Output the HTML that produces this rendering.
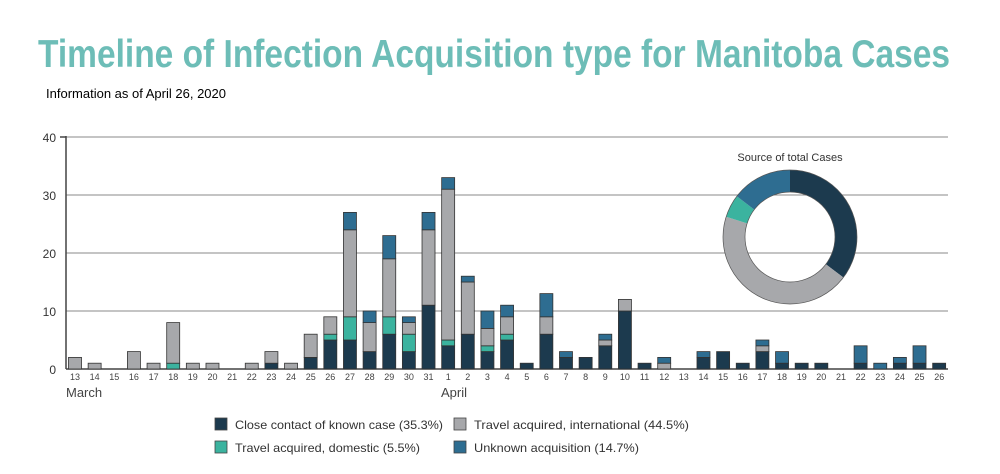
<!DOCTYPE html>
<html><head><meta charset="utf-8"><style>
body{margin:0;background:#fff;width:1000px;height:469px;overflow:hidden;font-family:"Liberation Sans",sans-serif}
</style></head><body>
<svg width="1000" height="469" viewBox="0 0 1000 469" xmlns="http://www.w3.org/2000/svg" font-family="Liberation Sans, sans-serif">
<text x="38" y="67" font-size="39" font-weight="bold" fill="#6dbdb7" textLength="912" lengthAdjust="spacingAndGlyphs">Timeline of Infection Acquisition type for Manitoba Cases</text>
<text x="46" y="98" font-size="13" fill="#000" textLength="180" lengthAdjust="spacingAndGlyphs">Information as of April 26, 2020</text>
<g stroke="#8a8a8a" stroke-width="1">
<line x1="66" y1="137" x2="948" y2="137"/><line x1="66" y1="195" x2="948" y2="195"/><line x1="66" y1="253" x2="948" y2="253"/><line x1="66" y1="311" x2="948" y2="311"/>
</g>
<line x1="66" y1="369" x2="948" y2="369" stroke="#444" stroke-width="1.5"/>
<line x1="66" y1="136" x2="66" y2="369" stroke="#444" stroke-width="1.5"/>
<line x1="60" y1="137" x2="66" y2="137" stroke="#444" stroke-width="1.5"/>
<g font-size="12" fill="#333" text-anchor="end">
<text x="56" y="142">40</text><text x="56" y="200">30</text><text x="56" y="258">20</text><text x="56" y="316">10</text><text x="56" y="374">0</text>
</g>
<g id="bars" stroke="#333" stroke-width="0.8"></g>
<g font-size="9" fill="#444" text-anchor="middle">
<text x="75" y="380">13</text><text x="94.6" y="380">14</text><text x="114.3" y="380">15</text><text x="133.9" y="380">16</text><text x="153.6" y="380">17</text><text x="173.2" y="380">18</text><text x="192.8" y="380">19</text><text x="212.5" y="380">20</text><text x="232.1" y="380">21</text><text x="251.8" y="380">22</text><text x="271.4" y="380">23</text><text x="291" y="380">24</text><text x="310.7" y="380">25</text><text x="330.3" y="380">26</text><text x="350" y="380">27</text><text x="369.6" y="380">28</text><text x="389.2" y="380">29</text><text x="408.9" y="380">30</text><text x="428.5" y="380">31</text><text x="448.2" y="380">1</text><text x="467.8" y="380">2</text><text x="487.4" y="380">3</text><text x="507.1" y="380">4</text><text x="526.7" y="380">5</text><text x="546.4" y="380">6</text><text x="566" y="380">7</text><text x="585.6" y="380">8</text><text x="605.3" y="380">9</text><text x="624.9" y="380">10</text><text x="644.6" y="380">11</text><text x="664.2" y="380">12</text><text x="683.8" y="380">13</text><text x="703.5" y="380">14</text><text x="723.1" y="380">15</text><text x="742.8" y="380">16</text><text x="762.4" y="380">17</text><text x="782" y="380">18</text><text x="801.7" y="380">19</text><text x="821.3" y="380">20</text><text x="841" y="380">21</text><text x="860.6" y="380">22</text><text x="880.2" y="380">23</text><text x="899.9" y="380">24</text><text x="919.5" y="380">25</text><text x="939.2" y="380">26</text>
</g>
<text x="66" y="397" font-size="13" fill="#444">March</text>
<text x="441" y="397" font-size="13" fill="#444">April</text>
<text x="790" y="161" font-size="11" fill="#333" text-anchor="middle">Source of total Cases</text>
<g transform="rotate(-90 790 237)" fill="none" stroke-width="22">
<circle cx="790" cy="237" r="56" stroke="#1c3a4e" stroke-dasharray="124.2 400" stroke-dashoffset="0"/>
<circle cx="790" cy="237" r="56" stroke="#a7a8ab" stroke-dasharray="156.6 400" stroke-dashoffset="-124.2"/>
<circle cx="790" cy="237" r="56" stroke="#3bb39f" stroke-dasharray="19.4 400" stroke-dashoffset="-280.8"/>
<circle cx="790" cy="237" r="56" stroke="#2e6d91" stroke-dasharray="51.7 400" stroke-dashoffset="-300.2"/>
</g>
<circle cx="790" cy="237" r="67" fill="none" stroke="#555" stroke-width="0.7"/>
<circle cx="790" cy="237" r="45" fill="none" stroke="#555" stroke-width="0.7"/>
<g stroke="#444" stroke-width="0.8">
<rect x="215" y="418" width="12" height="12" fill="#1c3a4e"/>
<rect x="454" y="418" width="12" height="12" fill="#a7a8ab"/>
<rect x="215" y="441" width="12" height="12" fill="#3bb39f"/>
<rect x="454" y="441" width="12" height="12" fill="#2e6d91"/>
</g>
<g font-size="12" fill="#333">
<text x="235" y="429" textLength="208" lengthAdjust="spacingAndGlyphs">Close contact of known case (35.3%)</text>
<text x="474" y="429" textLength="215" lengthAdjust="spacingAndGlyphs">Travel acquired, international (44.5%)</text>
<text x="235" y="452" textLength="185" lengthAdjust="spacingAndGlyphs">Travel acquired, domestic (5.5%)</text>
<text x="474" y="452" textLength="165" lengthAdjust="spacingAndGlyphs">Unknown acquisition (14.7%)</text>
</g>
</svg>
<script>
var d=[[0,0,2,0],[0,0,1,0],[0,0,0,0],[0,0,3,0],[0,0,1,0],[0,1,7,0],[0,0,1,0],[0,0,1,0],[0,0,0,0],[0,0,1,0],[1,0,2,0],[0,0,1,0],[2,0,4,0],[5,1,3,0],[5,4,15,3],[3,0,5,2],[6,3,10,4],[3,3,2,1],[11,0,13,3],[4,1,26,2],[6,0,9,1],[3,1,3,3],[5,1,3,2],[1,0,0,0],[6,0,3,4],[2,0,0,1],[2,0,0,0],[4,0,1,1],[10,0,2,0],[1,0,0,0],[0,0,1,1],[0,0,0,0],[2,0,0,1],[3,0,0,0],[1,0,0,0],[3,0,1,1],[1,0,0,2],[1,0,0,0],[1,0,0,0],[0,0,0,0],[1,0,0,3],[0,0,0,1],[1,0,0,1],[1,0,0,3],[1,0,0,0]];
var c=["#1c3a4e","#3bb39f","#a7a8ab","#2e6d91"],s="",u=5.8;
d.forEach(function(v,i){var x=75+19.64*i-6.5,y=369;v.forEach(function(n,k){if(!n)return;var h=n*u;y-=h;s+='<rect x="'+x+'" y="'+y+'" width="13" height="'+h+'" fill="'+c[k]+'"/>';});});
document.getElementById("bars").innerHTML=s;
</script>
</body></html>
